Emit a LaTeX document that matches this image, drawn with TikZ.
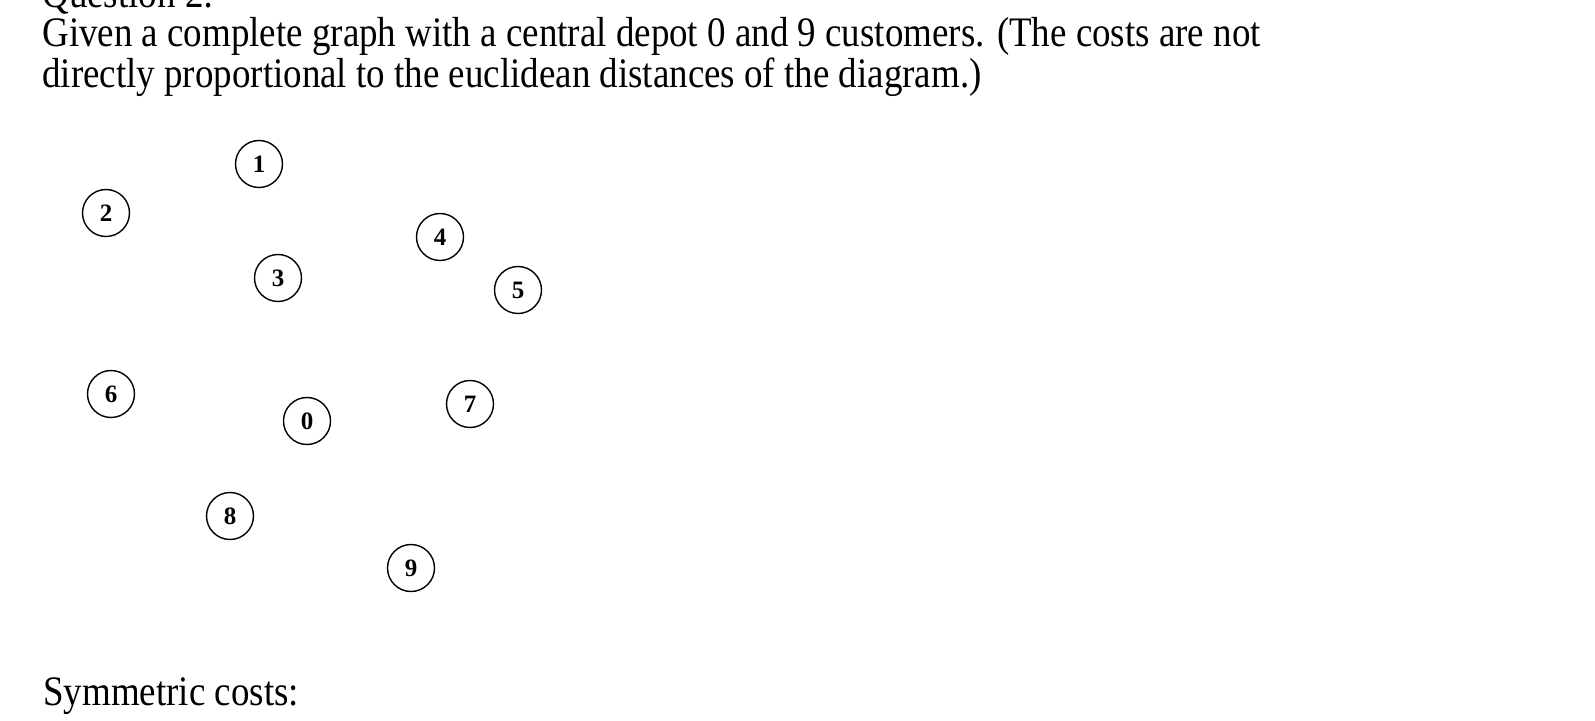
\documentclass[tikz,border=0pt]{standalone}
\usepackage{fontspec}
\setmainfont{Liberation Serif}[FakeStretch=0.88]
\newfontfamily\digitfont{Liberation Serif}
\tikzset{cust/.style={draw, circle, line width=0.7pt, inner sep=0pt, minimum size=23.5pt, font=\digitfont\fontsize{12.5}{12.5}\selectfont\bfseries},
         txt/.style={anchor=base west, inner sep=0pt, font=\fontsize{21}{21}\selectfont}}
\begin{document}
\begin{tikzpicture}[x=0.5pt,y=-0.5pt]
  \useasboundingbox (0,0) rectangle (1595,721);
  \clip (0,0) rectangle (1595,721);
  % heading and text
  \node[txt] (qhead) at (42,8) {Question 2:};
  \node[txt] (line1) at (42,47) {Given a complete graph with a central depot 0 and 9 customers. (The costs are not};
  \node[txt] (line2) at (42,88) {directly proportional to the euclidean distances of the diagram.)};
  % depot and customers
  \foreach \i/\x/\y in {0/307/421, 1/259/164, 2/106/213, 3/278/278, 4/440/237,
                        5/518/290, 6/111/394, 7/470/404, 8/230/516, 9/411/568}{
    \node[cust] (n\i) at (\x,\y) {\i};
  }
  \node[txt] (costs) at (43,705) {Symmetric costs:};
\end{tikzpicture}
\end{document}
